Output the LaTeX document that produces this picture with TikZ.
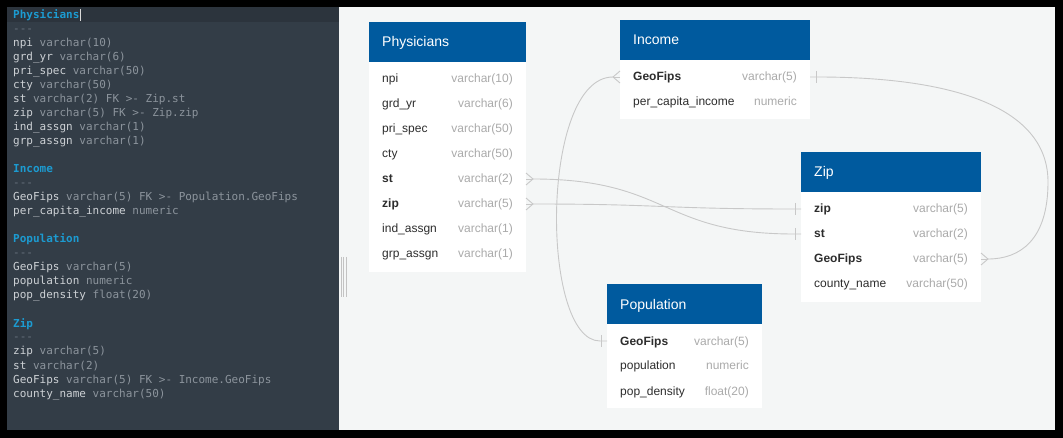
\documentclass[tikz,border=0pt]{standalone}
\usepackage{fontspec}
\setmainfont{Liberation Sans}
\newfontfamily\monofnt{DejaVu Sans Mono}
\definecolor{panelbg}{RGB}{51,61,71}
\definecolor{curline}{RGB}{44,52,61}
\definecolor{canvasbg}{RGB}{244,246,246}
\definecolor{hdrblue}{RGB}{0,90,158}
\definecolor{fldtxt}{RGB}{45,45,45}
\definecolor{typtxt}{RGB}{170,170,170}
\definecolor{conncol}{RGB}{200,200,200}
\definecolor{mkey}{RGB}{28,155,209}
\definecolor{mfld}{RGB}{205,209,213}
\definecolor{mtyp}{RGB}{140,148,156}
\definecolor{mdash}{RGB}{105,115,126}
\definecolor{scrl}{RGB}{195,195,195}

\newcommand\mline[3]{\node[mtext] (#1) at (13,#2+4) {#3};}
\newcommand\mk[1]{{\color{mkey}\bfseries #1}}
\newcommand\mf[1]{{\color{mfld}#1}}
\newcommand\mt[1]{{\color{mtyp}#1}}
\newcommand\etable[7]{%
  \node[bodybox, minimum width={(#3-#2)*1pt}, minimum height={(#6-#4)*1pt}] (#1) at (#2,#4) {};
  \node[hdrbox, minimum width={(#3-#2)*1pt}, minimum height={(#5-#4)*1pt}] (#1-h) at (#2,#4) {};
  \node[hdrtxt] (#1-title) at (#2+13,{(#4+#5)/2+5}) {#7};
}
\newcommand\erow[7]{%
  \node[rowbox, minimum width={(#3-#2)*1pt}] (#1) at ({(#2+#3)/2},#4) {};
  \node[fieldtxt,#7] (#1-f) at (#2+13,#4+4) {#5};
  \node[typetxt] (#1-t) at (#3-13,#4+4) {#6};
}
\newcommand\crowE[1]{%
  \draw[conn] ([yshift=6pt]#1.east) -- ([xshift=7pt]#1.east) -- ([yshift=-6pt]#1.east);
  \draw[conn] (#1.east) -- ([xshift=7pt]#1.east);}
\newcommand\crowW[1]{%
  \draw[conn] ([yshift=6pt]#1.west) -- ([xshift=-7pt]#1.west) -- ([yshift=-6pt]#1.west);
  \draw[conn] (#1.west) -- ([xshift=-7pt]#1.west);}
\newcommand\barE[1]{%
  \draw[conn] ([xshift=6pt,yshift=6pt]#1.east) -- ([xshift=6pt,yshift=-6pt]#1.east);}
\newcommand\barW[1]{%
  \draw[conn] ([xshift=-6pt,yshift=6pt]#1.west) -- ([xshift=-6pt,yshift=-6pt]#1.west);}

\begin{document}
\begin{tikzpicture}[x=1pt,y=-1pt,
  mtext/.style={anchor=base west,inner sep=0pt,font=\monofnt\fontsize{11}{14}\selectfont},
  bodybox/.style={anchor=north west,fill=white,inner sep=0pt,outer sep=0pt},
  hdrbox/.style={anchor=north west,fill=hdrblue,inner sep=0pt,outer sep=0pt},
  hdrtxt/.style={anchor=base west,inner sep=0pt,text=white,font=\fontsize{14}{16}\selectfont},
  rowbox/.style={inner sep=0pt,outer sep=0pt,minimum height=25pt},
  fieldtxt/.style={anchor=base west,inner sep=0pt,text=fldtxt,font=\fontsize{12}{14}\selectfont},
  typetxt/.style={anchor=base east,inner sep=0pt,text=typtxt,font=\fontsize{12}{14}\selectfont},
  fk/.style={font=\fontsize{12}{14}\selectfont\bfseries},
  nk/.style={},
  conn/.style={draw=conncol,line width=0.9pt}]
\useasboundingbox (0,0) rectangle (1063,438);
\fill[black] (0,0) rectangle (1063,438);
\fill[panelbg] (7,7) rectangle (339,430);
\fill[curline] (7,7) rectangle (339,22);
\fill[canvasbg] (339,7) rectangle (1055,430);
% scrollbar grip
\foreach \sx in {341.5,343.7,345.9} \draw[scrl,line width=0.8pt] (\sx,257) -- (\sx,297);

% editor text
\mline{m1}{15}{\mk{Physicians}}
\draw[white!85!black,line width=1.2pt] (80.5,9) -- (80.5,21);
\mline{m2}{29}{{\color{mdash}-{}-{}-}}
\mline{m3}{43}{\mf{npi} \mt{varchar(10)}}
\mline{m4}{57}{\mf{grd\_yr} \mt{varchar(6)}}
\mline{m5}{71}{\mf{pri\_spec} \mt{varchar(50)}}
\mline{m6}{85}{\mf{cty} \mt{varchar(50)}}
\mline{m7}{99}{\mf{st} \mt{varchar(2) FK >- Zip.st}}
\mline{m8}{113}{\mf{zip} \mt{varchar(5) FK >- Zip.zip}}
\mline{m9}{127}{\mf{ind\_assgn} \mt{varchar(1)}}
\mline{m10}{141}{\mf{grp\_assgn} \mt{varchar(1)}}
\mline{m11}{169}{\mk{Income}}
\mline{m12}{183}{{\color{mdash}-{}-{}-}}
\mline{m13}{197}{\mf{GeoFips} \mt{varchar(5) FK >- Population.GeoFips}}
\mline{m14}{211}{\mf{per\_capita\_income} \mt{numeric}}
\mline{m15}{239}{\mk{Population}}
\mline{m16}{253}{{\color{mdash}-{}-{}-}}
\mline{m17}{267}{\mf{GeoFips} \mt{varchar(5)}}
\mline{m18}{281}{\mf{population} \mt{numeric}}
\mline{m19}{295}{\mf{pop\_density} \mt{float(20)}}
\mline{m20}{323}{\mk{Zip}}
\mline{m21}{337}{{\color{mdash}-{}-{}-}}
\mline{m22}{351}{\mf{zip} \mt{varchar(5)}}
\mline{m23}{365}{\mf{st} \mt{varchar(2)}}
\mline{m24}{379}{\mf{GeoFips} \mt{varchar(5) FK >- Income.GeoFips}}
\mline{m25}{393}{\mf{county\_name} \mt{varchar(50)}}

% tables
\etable{phys}{369}{526}{22}{62}{272}{Physicians}
\erow{phnpi}{369}{526}{79}{npi}{varchar(10)}{nk}
\erow{phgrd}{369}{526}{104}{grd\_yr}{varchar(6)}{nk}
\erow{phpri}{369}{526}{129}{pri\_spec}{varchar(50)}{nk}
\erow{phcty}{369}{526}{154}{cty}{varchar(50)}{nk}
\erow{phst}{369}{526}{179}{st}{varchar(2)}{fk}
\erow{phzip}{369}{526}{204}{zip}{varchar(5)}{fk}
\erow{phind}{369}{526}{229}{ind\_assgn}{varchar(1)}{nk}
\erow{phgrp}{369}{526}{254}{grp\_assgn}{varchar(1)}{nk}

\etable{inc}{620}{810}{20}{60}{119}{Income}
\erow{incgeo}{620}{810}{77}{GeoFips}{varchar(5)}{fk}
\erow{incpci}{620}{810}{102}{per\_capita\_income}{numeric}{nk}

\etable{zip}{801}{981}{152}{192}{302}{Zip}
\erow{zzip}{801}{981}{209}{zip}{varchar(5)}{fk}
\erow{zst}{801}{981}{234}{st}{varchar(2)}{fk}
\erow{zgeo}{801}{981}{259}{GeoFips}{varchar(5)}{fk}
\erow{zcty}{801}{981}{284}{county\_name}{varchar(50)}{nk}

\etable{pop}{607}{762}{284}{324}{408}{Population}
\erow{popgeo}{607}{762}{341}{GeoFips}{varchar(5)}{fk}
\erow{poppop}{607}{762}{366}{population}{numeric}{nk}
\erow{popden}{607}{762}{391}{pop\_density}{float(20)}{nk}

% connectors
\crowE{phst}
\draw[conn] ([xshift=7pt]phst.east) .. controls (670,179) and (660,234) .. ([xshift=-7pt]zst.west) -- (zst.west);
\barW{zst}
\crowE{phzip}
\draw[conn] ([xshift=7pt]phzip.east) .. controls (663,204) and (663,209) .. ([xshift=-7pt]zzip.west) -- (zzip.west);
\barW{zzip}
\crowW{incgeo}
\draw[conn] ([xshift=-7pt]incgeo.west) .. controls (540,77) and (540,341) .. ([xshift=-7pt]popgeo.west) -- (popgeo.west);
\barW{popgeo}
\crowE{zgeo}
\coordinate (loopr) at (1048,182);
\draw[conn] (incgeo.east) -- ([xshift=7pt]incgeo.east) .. controls (960,77) and (1048,110) .. (loopr) .. controls (1048,240) and (1020,259) .. ([xshift=7pt]zgeo.east);
\barE{incgeo}
\end{tikzpicture}
\end{document}
